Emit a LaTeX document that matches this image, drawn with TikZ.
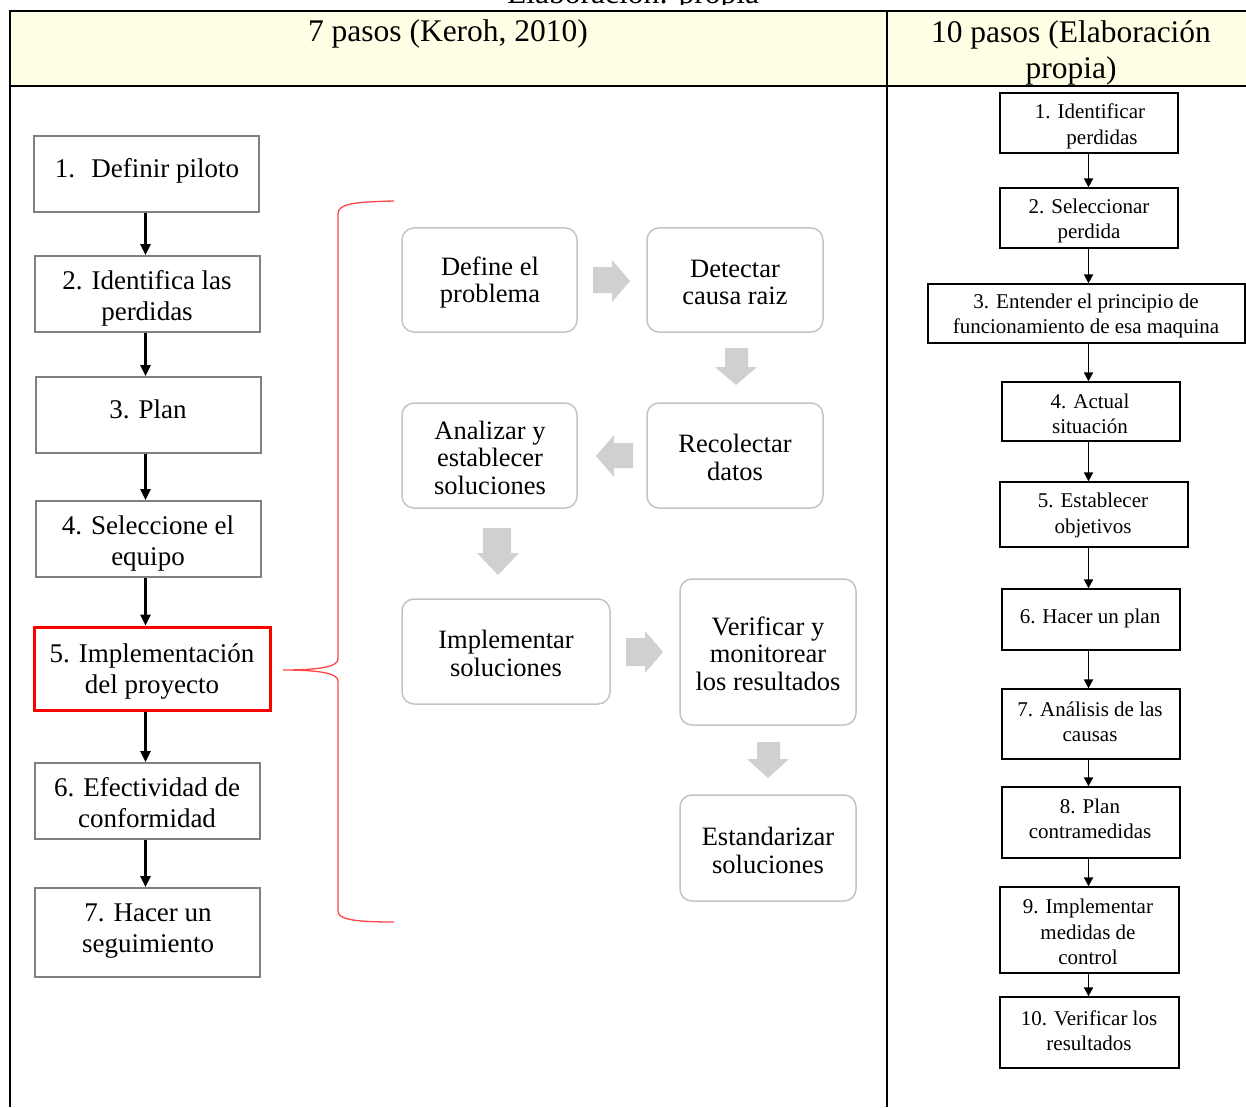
\documentclass[tikz,border=0pt]{standalone}
\usepackage{fontspec}
\setmainfont{Liberation Serif}
\usetikzlibrary{arrows.meta}
\definecolor{hdrfill}{RGB}{255,255,229}
\definecolor{lboxc}{RGB}{128,128,128}
\definecolor{mboxc}{RGB}{196,196,196}
\definecolor{garrow}{RGB}{208,208,208}
\definecolor{brk}{RGB}{255,70,70}
\begin{document}
\begin{tikzpicture}[x=1pt,y=-1pt,
  sz/.style 2 args={minimum width=#1pt, minimum height=#2pt},
  lstep/.style={draw=lboxc, line width=2pt, rectangle, inner sep=0pt},
  redstep/.style={draw=red, line width=3pt, rectangle, inner sep=0pt},
  mstep/.style={draw=mboxc, line width=1.5pt, rectangle, rounded corners=12pt, inner sep=0pt},
  rstep/.style={draw=black, line width=1.3pt, rectangle, inner sep=0pt},
  ltxt/.style={font=\fontsize{27}{31}\selectfont, align=center, inner sep=0pt, yshift=-3pt},
  mtxt/.style={font=\fontsize{26.5}{27.5}\selectfont, align=center, inner sep=0pt, yshift=-2.5pt},
  rtxt/.style={font=\fontsize{21}{25.5}\selectfont, align=center, inner sep=0pt, yshift=-2pt},
  htxt/.style={font=\fontsize{31.5}{36}\selectfont, align=center, inner sep=0pt},
  larrow/.style={line width=2.5pt, -{Triangle[length=11pt,width=10pt]}},
  rarrow/.style={line width=1.8pt, -{Triangle[length=9pt,width=9pt]}},
  blockarrow/.style={fill=garrow, draw=none}
]
\useasboundingbox (0,0) rectangle (1246,1107);
\fill[white] (0,0) rectangle (1246,1107);

% caption (cut off at top, as in the source)
\begin{scope}
\clip (0,0) rectangle (1246,4.5);
\node[htxt, anchor=base] (cap) at (633,4) {Elaboración: propia};
\end{scope}

% table
\fill[hdrfill] (10,11) rectangle (1246,86);
\draw[line width=2pt] (10,11) -- (1246,11);
\draw[line width=2pt] (10,86) -- (1246,86);
\draw[line width=2.2pt] (10,10) -- (10,1107);
\draw[line width=2pt] (887,11) -- (887,1107);

\node[htxt] (h1) at (448,33.5) {7 pasos (Keroh, 2010)};
\node[htxt] (h2) at (1071,52.5) {10 pasos (Elaboración\\propia)};

% left column
\coordinate (lx) at (145.5,0);
\node[lstep, sz={225}{76}] (b1) at (146.5,174) {};
\node[lstep, sz={225}{76}] (b2) at (147.5,294) {};
\node[lstep, sz={225}{76}] (b3) at (148.5,415) {};
\node[lstep, sz={225}{76}] (b4) at (148.5,539) {};
\node[redstep, sz={236}{83}] (b5) at (152,668.5) {};
\node[lstep, sz={225}{76}] (b6) at (147.5,801) {};
\node[lstep, sz={225}{89}] (b7) at (147.5,932.5) {};

\node[ltxt] (t1) at (147,168) {1.\hspace{0.6em}Definir piloto};
\node[ltxt] (t2) at (147,295) {2. Identifica las\\perdidas};
\node[ltxt] (t3) at (148,406) {3. Plan};
\node[ltxt] (t4) at (148,540.5) {4. Seleccione el\\equipo};
\node[ltxt] (t5) at (152,668.5) {5. Implementación\\del proyecto};
\node[ltxt] (t6) at (147,799.5) {6. Efectividad de\\conformidad};
\node[ltxt] (t7) at (148,928) {7. Hacer un\\seguimiento};

\draw[larrow] (b1.south -| lx) -- (b2.north -| lx);
\draw[larrow] (b2.south -| lx) -- (b3.north -| lx);
\draw[larrow] (b3.south -| lx) -- (b4.north -| lx);
\draw[larrow] (b4.south -| lx) -- (b5.north -| lx);
\draw[larrow] (b5.south -| lx) -- (b6.north -| lx);
\draw[larrow] (b6.south -| lx) -- (b7.north -| lx);

% red brace
\draw[brk, line width=1.3pt] (394,201) .. controls (352,202) and (338,204) .. (338,214)
  -- (338,659) .. controls (338,667) and (318,670) .. (283,670)
  .. controls (318,670) and (338,673) .. (338,681)
  -- (338,911) .. controls (338,919) and (352,922) .. (394,922);

% middle
\node[mstep, sz={175}{104}] (m1) at (489.5,280) {};
\node[mstep, sz={176}{104}] (m2) at (735,280) {};
\node[mstep, sz={175}{105}] (m3) at (489.5,455.5) {};
\node[mstep, sz={176}{105}] (m4) at (735,455.5) {};
\node[mstep, sz={208}{105}] (m5) at (506,651.5) {};
\node[mstep, sz={176}{146}] (m6) at (768,652) {};
\node[mstep, sz={176}{106}] (m7) at (768,848) {};

\node[mtxt] (n1) at (490,280) {Define el\\problema};
\node[mtxt] (n2) at (735,280) {Detectar\\causa raiz};
\node[mtxt] (n3) at (490,455) {Analizar y\\establecer\\soluciones};
\node[mtxt] (n4) at (735,455) {Recolectar\\datos};
\node[mtxt] (n5) at (506,651) {Implementar\\soluciones};
\node[mtxt] (n6) at (768,651) {Verificar y\\monitorear\\los resultados};
\node[mtxt] (n7) at (768,848) {Estandarizar\\soluciones};

% gray block arrows
\path[blockarrow] (593,267) -- (612,267) -- (612,260) -- (630,281) -- (612,302) -- (612,293) -- (593,293) -- cycle;
\path[blockarrow] (725,348) -- (748,348) -- (748,367) -- (757,367) -- (736,385) -- (715,367) -- (725,367) -- cycle;
\path[blockarrow] (633,443) -- (614,443) -- (614,435) -- (596,456) -- (614,477) -- (614,468) -- (633,468) -- cycle;
\path[blockarrow] (483,528) -- (511,528) -- (511,553) -- (519,553) -- (498,575) -- (477,553) -- (483,553) -- cycle;
\path[blockarrow] (626,638) -- (645,638) -- (645,631) -- (663,652) -- (645,673) -- (645,666) -- (626,666) -- cycle;
\path[blockarrow] (757,742) -- (780,742) -- (780,759) -- (789,759) -- (768,778) -- (747,759) -- (757,759) -- cycle;

% right column
\coordinate (rx) at (1088.5,0);
\node[rstep, sz={178}{60}] (r1) at (1089,123) {};
\node[rstep, sz={178}{60}] (r2) at (1089,218) {};
\node[rstep, sz={317}{59}] (r3) at (1086.5,313.5) {};
\node[rstep, sz={178}{59}] (r4) at (1091,411.5) {};
\node[rstep, sz={188}{65}] (r5) at (1094,514.5) {};
\node[rstep, sz={178}{61}] (r6) at (1091,619.5) {};
\node[rstep, sz={178}{70}] (r7) at (1091,724) {};
\node[rstep, sz={178}{71}] (r8) at (1091,822.5) {};
\node[rstep, sz={179}{86}] (r9) at (1089.5,930) {};
\node[rstep, sz={179}{71}] (r10) at (1089.5,1032.5) {};

\node[rtxt] (s1) at (1090,124.5) {1. Identificar\\\hspace*{24pt}perdidas};
\node[rtxt] (s2) at (1089,219) {2. Seleccionar\\perdida};
\node[rtxt] (s3) at (1086,314) {3. Entender el principio de\\funcionamiento de esa maquina};
\node[rtxt] (s4) at (1090,412) {4. Actual\\situación};
\node[rtxt] (s5) at (1093,513.5) {5. Establecer\\objetivos};
\node[rtxt] (s6) at (1090,616) {6. Hacer un plan};
\node[rtxt] (s7) at (1090,720) {7. Análisis de las\\causas};
\node[rtxt] (s8) at (1090,817) {8. Plan\\contramedidas};
\node[rtxt] (s9) at (1088,930) {9. Implementar\\medidas de\\control};
\node[rtxt] (s10) at (1089,1028.5) {10. Verificar los\\resultados};

\draw[rarrow] (r1.south -| rx) -- (r2.north -| rx);
\draw[rarrow] (r2.south -| rx) -- (r3.north -| rx);
\draw[rarrow] (r3.south -| rx) -- (r4.north -| rx);
\draw[rarrow] (r4.south -| rx) -- (r5.north -| rx);
\draw[rarrow] (r5.south -| rx) -- (r6.north -| rx);
\draw[rarrow] (r6.south -| rx) -- (r7.north -| rx);
\draw[rarrow] (r7.south -| rx) -- (r8.north -| rx);
\draw[rarrow] (r8.south -| rx) -- (r9.north -| rx);
\draw[rarrow] (r9.south -| rx) -- (r10.north -| rx);
\end{tikzpicture}
\end{document}
